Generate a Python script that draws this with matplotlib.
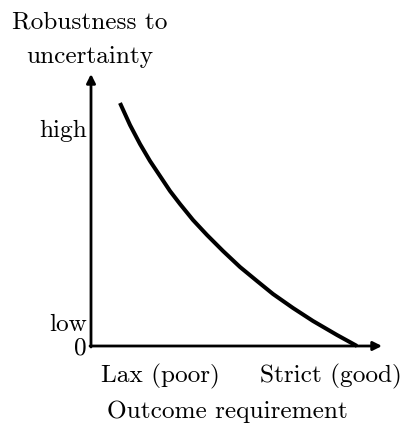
import matplotlib.pyplot as plt

plt.rcParams['font.family'] = 'cmr10'
plt.rcParams['axes.formatter.use_mathtext'] = True

# curve (arbitrary units)
req = [29, 39, 49, 59, 69, 79, 89, 102, 116, 132, 149, 166, 182, 202, 222, 246, 266]
rob = [243, 221, 202, 185, 170, 155, 142, 126, 111, 95, 79, 65, 52, 38, 25, 11, 0]

ytick_pos = [0, 24, 218]
ytick_lab = ['0', 'low', 'high']
xtick_pos = [69, 240]
xtick_lab = ['Lax (poor)', 'Strict (good)']

W, H = 404, 426
fig = plt.figure(figsize=(W / 100, H / 100), dpi=100)
ax = fig.add_axes([91 / W, (H - 346) / H, (381 - 91) / W, (346 - 75) / H])
ax.set_xlim(0, 290)
ax.set_ylim(0, 271)
for s in ax.spines.values():
    s.set_visible(False)

# axes as arrows
arrow = dict(arrowstyle='-|>', lw=2.0, color='k', mutation_scale=13,
             shrinkA=0, shrinkB=0)
ax.annotate('', xy=(291, 0), xytext=(-1, 0), arrowprops=arrow,
            annotation_clip=False)
ax.annotate('', xy=(0, 272), xytext=(0, -1), arrowprops=arrow,
            annotation_clip=False)

ax.plot(req, rob, color='k', lw=2.9, solid_capstyle='butt', clip_on=False)

fs = 18.2
ax.set_yticks(ytick_pos)
ax.set_yticklabels(ytick_lab, fontsize=fs)
ax.set_xticks(xtick_pos)
ax.set_xticklabels(xtick_lab, fontsize=fs)
ax.tick_params(axis='y', length=0, pad=3)
ax.tick_params(axis='x', length=0, pad=13)
ax.set_xlabel('Outcome requirement', fontsize=fs)
ax.xaxis.set_label_coords((227 - 91) / 290, -0.2)

fig.text(90 / W, 1 - 22 / H, 'Robustness to', fontsize=fs, ha='center', va='center')
fig.text(90 / W, 1 - 57 / H, 'uncertainty', fontsize=fs, ha='center', va='center')

fig.savefig('out.png', dpi=100)
